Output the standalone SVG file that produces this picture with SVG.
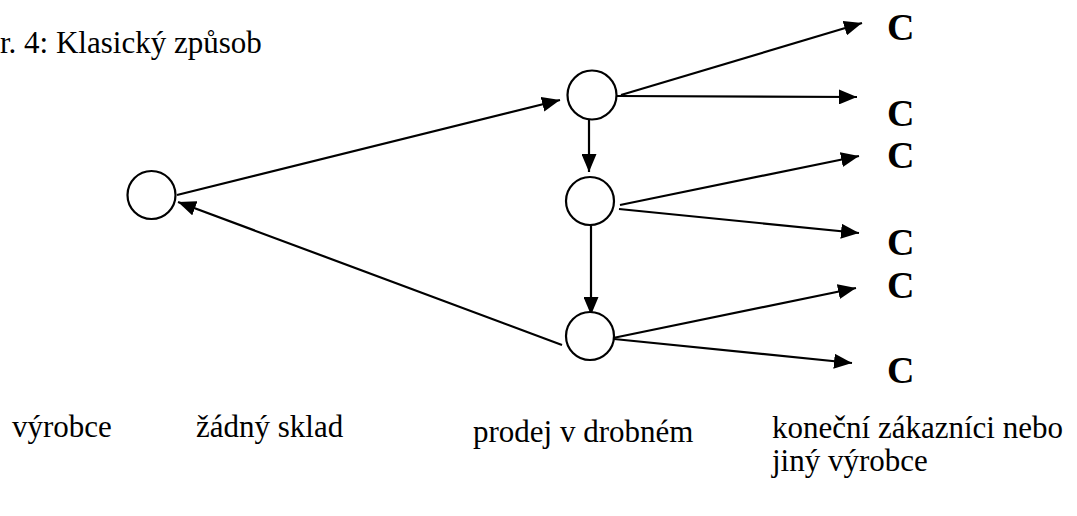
<svg xmlns="http://www.w3.org/2000/svg" width="1077" height="516" viewBox="0 0 1077 516">
  <style>
    .node { fill: #fff; stroke: #000; stroke-width: 2.2; }
    .edge { stroke: #000; stroke-width: 2.2; fill: none; marker-end: url(#head); }
    text { font-family: 'Liberation Serif', 'Times New Roman', Times, serif; fill: #000; }
    .lbl { font-size: 31px; }
    .c { font-size: 38px; font-weight: bold; }
  </style>
  <defs>
    <!-- solid triangular arrowhead, tip placed on the line end -->
    <marker id="head" markerUnits="userSpaceOnUse" markerWidth="19" markerHeight="15" refX="18" refY="7.5" orient="auto">
      <path d="M0,0 L18,7.5 L0,15 z" fill="#000"/>
    </marker>
  </defs>
  <rect width="1077" height="516" fill="#fff"/>

  <text class="lbl" x="0" y="53">r. 4: Klasický způsob</text>

  <g id="connectors">
    <line class="edge" x1="177" y1="195" x2="560" y2="100"/>
    <line class="edge" x1="562" y1="345" x2="178" y2="202"/>
    <line class="edge" x1="589" y1="118" x2="589" y2="172"/>
    <line class="edge" x1="591" y1="225" x2="591" y2="315"/>
    <line class="edge" x1="621" y1="95" x2="862" y2="23"/>
    <line class="edge" x1="617" y1="96" x2="857" y2="97"/>
    <line class="edge" x1="620" y1="205" x2="859" y2="156"/>
    <line class="edge" x1="619" y1="209" x2="859" y2="233"/>
    <line class="edge" x1="613" y1="338" x2="856" y2="288"/>
    <line class="edge" x1="614" y1="339" x2="852" y2="363"/>
  </g>

  <g id="producer"><circle class="node" cx="151.5" cy="195" r="24"/></g>
  <g id="retail-1"><circle class="node" cx="592" cy="95" r="24.5"/></g>
  <g id="retail-2"><circle class="node" cx="590" cy="201" r="24"/></g>
  <g id="retail-3"><circle class="node" cx="590" cy="336" r="24"/></g>

  <g id="customers">
    <text class="c" x="887" y="40">C</text>
    <text class="c" x="887" y="126">C</text>
    <text class="c" x="887" y="168">C</text>
    <text class="c" x="887" y="255">C</text>
    <text class="c" x="887" y="298">C</text>
    <text class="c" x="887" y="383">C</text>
  </g>

  <g id="captions">
    <text class="lbl" x="12" y="437">výrobce</text>
    <text class="lbl" x="196" y="437">žádný sklad</text>
    <text class="lbl" x="473" y="442">prodej v drobném</text>
    <text class="lbl" x="772" y="438">koneční zákazníci nebo</text>
    <text class="lbl" x="772" y="471">jiný výrobce</text>
  </g>
</svg>
